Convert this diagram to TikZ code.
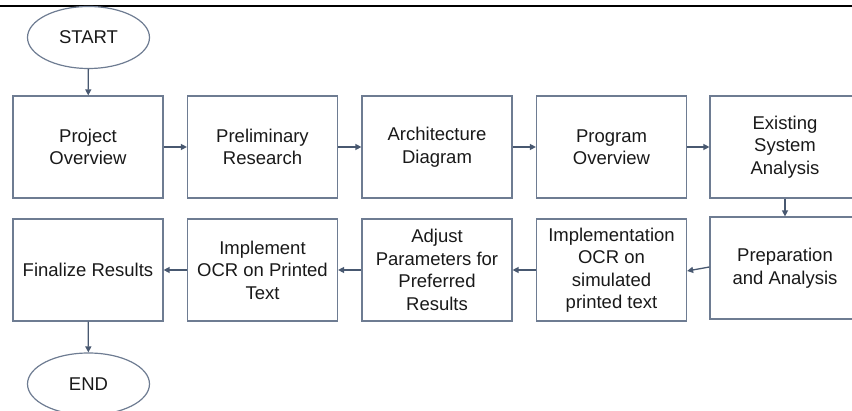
\documentclass[tikz,border=0pt]{standalone}
\usepackage{fontspec}
\setmainfont{Liberation Sans}
\usetikzlibrary{arrows.meta,shapes.geometric}
\definecolor{edge}{RGB}{110,124,146}
\definecolor{flow}{RGB}{72,88,112}
\definecolor{ink}{RGB}{25,25,25}
\tikzset{
  x=1pt, y=1pt,
  stepbox/.style={draw=edge, line width=1.2pt, minimum width=150pt, minimum height=102pt,
    inner sep=2pt, align=center, text=ink, font=\fontsize{18.5}{22.5}\selectfont},
  terminal/.style={ellipse, draw=edge, line width=1.2pt, minimum width=122pt, minimum height=62pt,
    inner sep=0pt, text=ink, font=\fontsize{18.5}{22.5}\selectfont},
  flowarrow/.style={draw=flow, line width=1.3pt, -{Triangle[length=6pt,width=6pt]}}
}
\begin{document}
\begin{tikzpicture}
\useasboundingbox (0,0) rectangle (852,-411);
\clip (0,0) rectangle (852,-411);
% rule along the top edge
\draw[line width=2pt, black] (0,-6) -- (852,-6);

% terminals
\node[terminal] (start) at (88.5,-37.5) {START};
\node[terminal] (end) at (88.5,-384) {END};

% first row
\node[stepbox] (overview) at (88,-147) {Project\\Overview};
\node[stepbox] (research) at (262.5,-147) {Preliminary\\Research};
\node[stepbox] (arch) at (437,-147) {Architecture\\Diagram};
\node[stepbox] (program) at (611.5,-147) {Program\\Overview};
\node[stepbox] (existing) at (785,-147) {Existing\\System\\Analysis};

% second row
\node[stepbox] (prep) at (785,-268) {Preparation\\and Analysis};
\node[stepbox] (simulated) at (611.5,-270) {Implementation\\OCR on\\simulated\\printed text};
\node[stepbox] (adjust) at (437,-270) {Adjust\\Parameters for\\Preferred\\Results};
\node[stepbox] (printed) at (262.5,-270) {Implement\\OCR on Printed\\Text};
\node[stepbox] (final) at (88,-270) {Finalize Results};

% connectors
\draw[flowarrow] (start) -- (overview);
\draw[flowarrow] (overview) -- (research);
\draw[flowarrow] (research) -- (arch);
\draw[flowarrow] (arch) -- (program);
\draw[flowarrow] (program) -- (existing.west |- program.east);
\draw[flowarrow] (existing) -- (prep);
\draw[flowarrow] ([yshift=1pt]prep.west) -- ([yshift=-1pt]simulated.east);
\draw[flowarrow] (simulated) -- (adjust);
\draw[flowarrow] (adjust) -- (printed);
\draw[flowarrow] (printed) -- (final);
\draw[flowarrow] (final) -- (end);
\end{tikzpicture}
\end{document}
